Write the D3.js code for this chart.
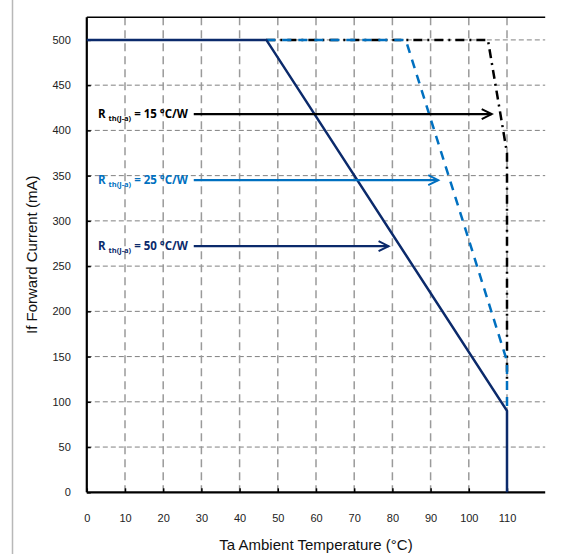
<!DOCTYPE html>
<html><head><meta charset="utf-8">
<script src="https://cdn.jsdelivr.net/npm/d3@7"></script>
<style>body{margin:0;background:#fff}</style>
</head><body><svg id="c" width="565" height="554"></svg>
<script>
// ---- data ----
const xTicks = [0,10,20,30,40,50,60,70,80,90,100,110];
const yTicks = [0,50,100,150,200,250,300,350,400,450,500];
const rth15 = [[47,500],[105,500],[110,375],[110,120]];
const rth25 = [[47,500],[83.5,500],[110,145],[110,90]];
const rth50 = [[0,500],[47,500],[110,90],[110,0]];
const labelValues = ["15","25","50"];
const arrowY = [418, 345, 272];
const arrowStart = [28, 28, 28];
const arrowEnd = [106, 92, 79];
const labelX = [2.9, 2.9, 2.9];

// ---- layout ----
const svg = d3.select("#c");
const L = 86.8, R = 545.2, T = 17.3, B = 492.3;
const x = d3.scaleLinear().domain([0,120]).range([L,R]);
const y = d3.scaleLinear().domain([0,525]).range([B,T]);
const colors = ["#000000","#0070C0","#0B2A6B"];

// outer frame left edge
svg.append("line").attr("x1",12.5).attr("x2",12.5).attr("y1",0).attr("y2",554)
  .attr("stroke","#b8b8b8").attr("stroke-width",1.5);

// gridlines
svg.append("g").selectAll("line").data(yTicks.filter(d=>d>0)).join("line")
  .attr("x1",L).attr("x2",R).attr("y1",d=>y(d)).attr("y2",d=>y(d))
  .attr("stroke","#808080").attr("stroke-width",1).attr("stroke-dasharray","5,3");
svg.append("g").selectAll("line").data(xTicks.filter(d=>d>0)).join("line")
  .attr("x1",d=>x(d)).attr("x2",d=>x(d)).attr("y1",T).attr("y2",B)
  .attr("stroke","#9a9a9a").attr("stroke-width",1.5).attr("stroke-dasharray","8,5");

// axes
const yAxis = d3.axisLeft(y).tickValues(yTicks).tickSize(-4).tickPadding(16);
const gy = svg.append("g").attr("transform",`translate(${L},0)`).call(yAxis);
const xAxis = d3.axisBottom(x).tickValues(xTicks).tickSize(-4).tickPadding(22);
const gx = svg.append("g").attr("transform",`translate(0,${B})`).call(xAxis);
[gx,gy].forEach(g=>{
  g.select(".domain").remove();
  g.selectAll(".tick line").attr("stroke","#000").attr("stroke-width",1.5);
  g.selectAll("text").attr("font-family","Liberation Sans, Arial, sans-serif")
    .attr("font-size",11).attr("fill","#222");
});
// axis lines + top border
svg.append("line").attr("x1",L).attr("x2",L).attr("y1",T).attr("y2",B)
  .attr("stroke","#000").attr("stroke-width",2.2);
svg.append("line").attr("x1",L).attr("x2",R).attr("y1",B).attr("y2",B)
  .attr("stroke","#000").attr("stroke-width",2.2);
svg.append("line").attr("x1",L).attr("x2",R).attr("y1",T).attr("y2",T)
  .attr("stroke","#000").attr("stroke-width",1.5);

// series
const line = d3.line().x(d=>x(d[0])).y(d=>y(d[1]));
svg.append("path").datum(rth15).attr("d",line).attr("fill","none")
  .attr("stroke",colors[0]).attr("stroke-width",2.5).attr("stroke-dasharray","9,5,2,5");
svg.append("path").datum(rth25).attr("d",line).attr("fill","none")
  .attr("stroke",colors[1]).attr("stroke-width",2.5).attr("stroke-dasharray","9,7");
svg.append("path").datum(rth50).attr("d",line).attr("fill","none")
  .attr("stroke",colors[2]).attr("stroke-width",2.5);

// annotations
labelValues.forEach((v,i)=>{
  const yy = y(arrowY[i]);
  const x0 = x(arrowStart[i]), x1 = x(arrowEnd[i]);
  svg.append("line").attr("x1",x0).attr("x2",x1).attr("y1",yy).attr("y2",yy)
    .attr("stroke",colors[i]).attr("stroke-width",2.2);
  svg.append("path").attr("d",`M${x1-10},${yy-5}L${x1},${yy}L${x1-10},${yy+5}`)
    .attr("fill","none").attr("stroke",colors[i]).attr("stroke-width",2);
  const t = svg.append("text").attr("x",x(labelX[i])).attr("y",yy+4)
    .attr("font-family","Open Sans, Liberation Sans, sans-serif").attr("font-weight","bold")
    .attr("font-size",11.5).attr("fill",colors[i]);
  t.append("tspan").text("R ");
  t.append("tspan").attr("font-size",7.5).attr("dy",3).text("th(J-a)");
  t.append("tspan").attr("dy",-3).text(" = " + v + " °C/W");
});

// titles
svg.append("text").attr("x",(L+R)/2).attr("y",550).attr("text-anchor","middle")
  .attr("font-family","Liberation Sans, Arial, sans-serif").attr("font-size",15).attr("fill","#111")
  .text("Ta Ambient Temperature (°C)");
svg.append("text").attr("transform",`translate(37,${(T+B)/2}) rotate(-90)`).attr("text-anchor","middle")
  .attr("font-family","Liberation Sans, Arial, sans-serif").attr("font-size",15).attr("fill","#111")
  .text("If Forward Current (mA)");
</script></body></html>
